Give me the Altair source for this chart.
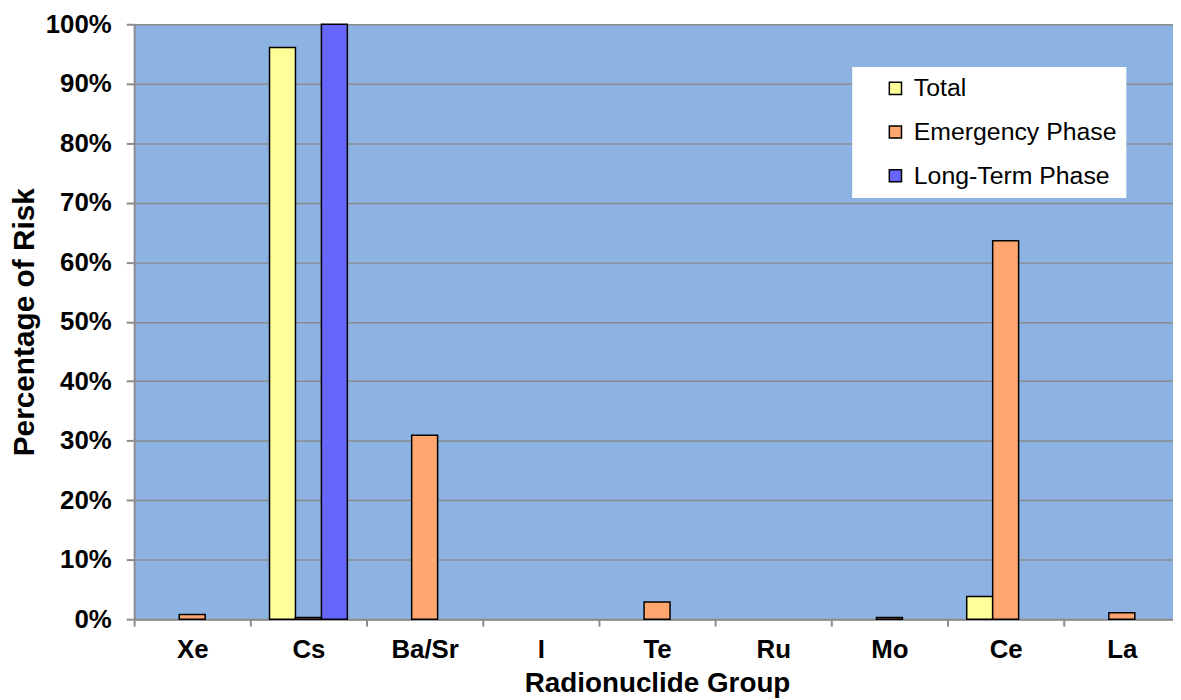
import altair as alt
import pandas as pd

groups = ["Xe", "Cs", "Ba/Sr", "I", "Te", "Ru", "Mo", "Ce", "La"]
series = ["Total", "Emergency Phase", "Long-Term Phase"]
total = [0.0, 96.1, 0.0, 0.0, 0.0, 0.0, 0.0, 3.8, 0.0]
emergency = [0.8, 0.3, 30.9, 0.0, 2.9, 0.0, 0.3, 63.6, 1.1]
longterm = [0.0, 100.0, 0.0, 0.0, 0.0, 0.0, 0.0, 0.0, 0.0]
colors = ["#FFFF99", "#FFA76F", "#6666FF"]

rows = []
for i, g in enumerate(groups):
    for s, vals in zip(series, [total, emergency, longterm]):
        rows.append({"group": g, "series": s, "value": vals[i]})
df = pd.DataFrame(rows)

FONT = "Liberation Sans"
AXC = "#8C8C8C"

chart = alt.Chart(df).transform_filter("datum.value > 0").mark_bar(
    stroke="black", strokeWidth=1.5
).encode(
    x=alt.X("group:N", sort=groups, title="Radionuclide Group",
            scale=alt.Scale(domain=groups, paddingInner=0.33, paddingOuter=0.165, range=[0, 1053]),
            axis=alt.Axis(labelAngle=0, labelFont=FONT, labelFontWeight="bold",
                          labelFontSize=26, labelColor="black", labelPadding=11,
                          titleFont=FONT, titleFontSize=28, titleFontWeight="bold",
                          titleColor="black", titlePadding=7, tickBand="center",
                          tickOffset=-58.5, labelOffset=58.5,
                          tickSize=7, tickColor=AXC, domainColor=AXC, domainWidth=2,
                          tickWidth=2, grid=False)),
    xOffset=alt.XOffset("series:N", sort=series, scale=alt.Scale(domain=series, paddingInner=0, paddingOuter=0)),
    y=alt.Y("value:Q", title="Percentage of Risk",
            scale=alt.Scale(domain=[0, 100], nice=False),
            axis=alt.Axis(values=list(range(0, 101, 10)), labelExpr="datum.value + '%'",
                          labelFont=FONT, labelFontWeight="bold", labelFontSize=26,
                          labelColor="black", labelPadding=15,
                          titleFont=FONT, titleFontSize=30, titleFontWeight="bold",
                          titleColor="black", titlePadding=6,
                          tickSize=8, tickColor=AXC, domainColor=AXC, domainWidth=2,
                          tickWidth=2, gridColor=AXC, gridWidth=1.5)),
    color=alt.Color("series:N", sort=series,
                    scale=alt.Scale(domain=series, range=colors),
                    legend=alt.Legend(title=None, orient="none", legendX=723, legendY=43,
                                      fillColor="white", padding=9, symbolOffset=22,
                                      symbolType="square",
                                      symbolSize=150, symbolStrokeColor="black",
                                      symbolStrokeWidth=1.5, labelFont=FONT,
                                      labelFontSize=25, labelColor="black", rowPadding=18,
                                      labelOffset=6, labelLimit=400, symbolOpacity=1,
                                      labelExpr="datum.label + '    '")),
).properties(
    width=1046, height=599,
    autosize=alt.AutoSizeParams(type="none"),
    padding={"left": 127, "top": 14, "right": 0, "bottom": 78},
).configure_view(fill="#8DB3E2", stroke=None)

chart.save("out.html", embed_options={"renderer": "svg", "actions": False})
